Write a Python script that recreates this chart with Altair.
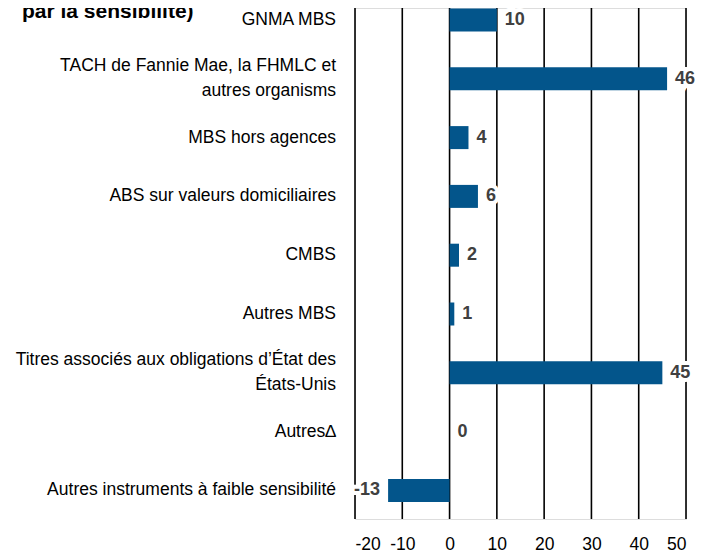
import altair as alt
import pandas as pd

categories = [
    "GNMA MBS",
    "TACH de Fannie Mae, la FHMLC et|autres organisms",
    "MBS hors agences",
    "ABS sur valeurs domiciliaires",
    "CMBS",
    "Autres MBS",
    "Titres associés aux obligations d’État des|États-Unis",
    "Autres∆",
    "Autres instruments à faible sensibilité",
]
values = [10, 46, 4, 6, 2, 1, 45, 0, -13]
x_ticks = [-20, -10, 0, 10, 20, 30, 40, 50]
title_text = "par la sensibilité)"

FONT = "Liberation Sans, Arial"
BAR = "#03558B"
LAB_SIZE = 17.5

df = pd.DataFrame({"cat": categories, "v": values})
df["lab"] = df["v"].astype(str)
ticks_df = pd.DataFrame({"t": x_ticks})

y_enc = alt.Y(
    "cat:N",
    sort=None,
    scale=alt.Scale(range=[-17.4, 511.8]),
    axis=None,
)
x_scale = alt.Scale(domain=[-20, 50], nice=False, zero=False)
x_axis = alt.Axis(
    title=None,
    values=x_ticks,
    labelExpr="toString(datum.value)",
    labelFont=FONT,
    labelFontSize=LAB_SIZE,
    labelColor="#000000",
    labelPadding=16,
    labelOverlap=False,
    ticks=False,
    tickSize=0,
    tickOpacity=0,
    domain=False,
    domainOpacity=0,
    grid=False,
)
x_enc = alt.X("v:Q", scale=x_scale, axis=x_axis, title=None)

grid = alt.Chart(ticks_df).mark_rule(color="#000000", strokeWidth=1.6).encode(
    x=alt.X("t:Q", scale=x_scale, axis=x_axis, title=None),
    y=alt.value(0),
    y2=alt.value(511),
)

base = alt.Chart(df)

bars = base.mark_bar(color=BAR, size=23).encode(y=y_enc, x=x_enc, x2=alt.datum(0))

# category labels (drawn as text so two-line labels can be centred on their bar)
cat_common = dict(font=FONT, fontSize=LAB_SIZE, align="right", baseline="middle",
                  color="#000000", lineHeight=25)
single = base.transform_filter("indexof(datum.cat, '|') < 0").mark_text(
    **cat_common).encode(y=y_enc, x=alt.value(-19), text="cat:N")
multi = base.transform_filter("indexof(datum.cat, '|') >= 0").transform_calculate(
    lines="split(datum.cat, '|')").mark_text(dy=-12.5, **cat_common).encode(
    y=y_enc, x=alt.value(-19), text="lines:N")

pos = base.transform_filter("datum.v >= 0")
neg = base.transform_filter("datum.v < 0")

txt_common = dict(font=FONT, fontSize=18, fontWeight="bold", baseline="middle")

halo_pos = pos.mark_text(align="left", dx=8, stroke="white", strokeWidth=8,
                         fill="white", **txt_common).encode(y=y_enc, x="v:Q", text="lab:N")
halo_neg = neg.mark_text(align="right", dx=-8, stroke="white", strokeWidth=8,
                         fill="white", **txt_common).encode(y=y_enc, x="v:Q", text="lab:N")
lab_pos = pos.mark_text(align="left", dx=8, color="#404040",
                        **txt_common).encode(y=y_enc, x="v:Q", text="lab:N")
lab_neg = neg.mark_text(align="right", dx=-8, color="#404040",
                        **txt_common).encode(y=y_enc, x="v:Q", text="lab:N")

title = alt.Chart(pd.DataFrame({"t": [title_text]})).mark_text(
    font=FONT, fontSize=21, fontWeight="bold", align="left",
    baseline="alphabetic", color="#000000"
).encode(x=alt.value(-333), y=alt.value(10), text="t:N")

chart = alt.layer(grid, halo_pos, halo_neg, bars, lab_pos, lab_neg, single, multi, title).properties(
    width=331,
    height=511,
    autosize=alt.AutoSizeParams(type="none"),
    padding={"left": 347, "top": 0, "right": 19, "bottom": 38},
).configure_view(stroke=None).configure(background="white")

chart.save("out.html", embed_options={"renderer": "svg", "actions": False})
